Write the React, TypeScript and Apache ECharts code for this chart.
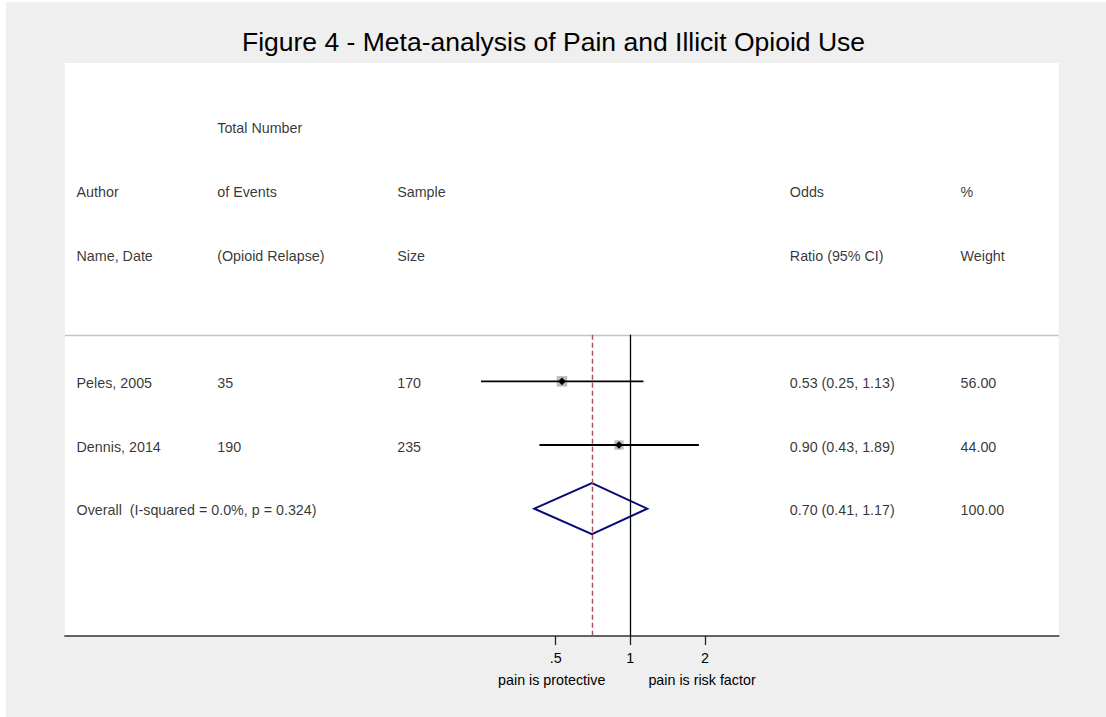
import React, { useEffect, useRef } from "react";
import * as echarts from "echarts";

// ---------- data ----------
const titleText = "Figure 4 - Meta-analysis of Pain and Illicit Opioid Use";
const authors = ["Peles, 2005", "Dennis, 2014"];
const events = [35, 190];
const samples = [170, 235];
const oddsRatios = [0.53, 0.9];
const ciLow = [0.25, 0.43];
const ciHigh = [1.13, 1.89];
const weights = [56.0, 44.0];
const overallLabel = "Overall  (I-squared = 0.0%, p = 0.324)";
const overallEstimate = [0.7, 0.41, 1.17]; // OR, lower, upper
const overallWeight = 100.0;
const headerLine1 = ["", "Total Number", "", "", ""];
const headerLine2 = ["Author", "of Events", "Sample", "Odds", "%"];
const headerLine3 = ["Name, Date", "(Opioid Relapse)", "Size", "Ratio (95% CI)", "Weight"];
const tickValues = [0.5, 1, 2];
const tickLabels = [".5", "1", "2"];
const directionLabels = ["pain is protective", "pain is risk factor"];

// ---------- layout constants ----------
const FONT = "'Liberation Sans', Arial, Helvetica, sans-serif";
const OFFX = 6;
const OFFY = 2;
const XMIN = 0.00525;
const XMAX = 53.4;
const columnX = [0.0111, 0.1527, 0.3338, 0.7289, 0.9007];
const headerRowY = [1, 2, 3];
const studyRowY = [5, 6];
const overallRowY = 7;
const dividerY = 4.27;
const ROWS = 9;
const FS = 14.3;

const fmt = (v: number) => v.toFixed(2);

export default function App() {
  const ref = useRef<HTMLDivElement>(null);

  useEffect(() => {
    if (!ref.current) return;
    const chart = echarts.init(ref.current, null, { renderer: "svg" });

    const textData: any[] = [];
    const pushRow = (cells: string[], row: number) => {
      cells.forEach((c, i) => {
        if (c !== "") textData.push({ name: c, value: [columnX[i], row] });
      });
    };
    pushRow(headerLine1, headerRowY[0]);
    pushRow(headerLine2, headerRowY[1]);
    pushRow(headerLine3, headerRowY[2]);
    authors.forEach((a, i) => {
      pushRow(
        [
          a,
          String(events[i]),
          String(samples[i]),
          `${fmt(oddsRatios[i])} (${fmt(ciLow[i])}, ${fmt(ciHigh[i])})`,
          fmt(weights[i]),
        ],
        studyRowY[i]
      );
    });
    textData.push({ name: overallLabel, value: [columnX[0], overallRowY] });
    textData.push({
      name: `${fmt(overallEstimate[0])} (${fmt(overallEstimate[1])}, ${fmt(overallEstimate[2])})`,
      value: [columnX[3], overallRowY],
    });
    textData.push({ name: fmt(overallWeight), value: [columnX[4], overallRowY] });

    const studyData = authors.map((_, i) => [oddsRatios[i], studyRowY[i], ciLow[i], ciHigh[i], weights[i]]);

    const option: any = {
      animation: false,
      backgroundColor: "#efefef",
      grid: {
        left: 65 - OFFX,
        right: 1106 - 1058.7,
        top: 63 - OFFY,
        bottom: 717 - 636,
        show: true,
        backgroundColor: "#ffffff",
        borderWidth: 0,
        containLabel: false,
      },
      xAxis: [
        {
          type: "log",
          logBase: 2,
          min: XMIN,
          max: XMAX,
          position: "bottom",
          splitLine: { show: false },
          axisLine: { show: true, onZero: false, lineStyle: { color: "#333333", width: 1.7 } },
          axisTick: {
            show: true,
            length: 9,
            customValues: tickValues,
            lineStyle: { color: "#222222", width: 1.3 },
          },
          axisLabel: {
            customValues: tickValues,
            margin: 14.5,
            fontSize: FS,
            color: "#000",
            fontFamily: FONT,
            formatter: (v: number) => {
              let best = 0;
              tickValues.forEach((t, i) => {
                if (Math.abs(Math.log(v) - Math.log(t)) < Math.abs(Math.log(v) - Math.log(tickValues[best]))) best = i;
              });
              return tickLabels[best];
            },
          },
        },
        { type: "value", min: 0, max: 1, show: false },
      ],
      yAxis: [{ type: "value", min: 0, max: ROWS, inverse: true, show: false }],
      graphic: [
        {
          type: "text",
          x: 553.5 - OFFX,
          y: 42 - OFFY,
          style: {
            text: titleText,
            fontSize: 26.5,
            fontFamily: FONT,
            fill: "#000",
            textAlign: "center",
            textVerticalAlign: "middle",
          },
        },
        {
          type: "text",
          x: 551.7 - OFFX,
          y: 679.5 - OFFY,
          style: {
            text: directionLabels[0],
            fontSize: FS,
            fontFamily: FONT,
            fill: "#000",
            textAlign: "center",
            textVerticalAlign: "middle",
          },
        },
        {
          type: "text",
          x: 702 - OFFX,
          y: 679.5 - OFFY,
          style: {
            text: directionLabels[1],
            fontSize: FS,
            fontFamily: FONT,
            fill: "#000",
            textAlign: "center",
            textVerticalAlign: "middle",
          },
        },
      ],
      series: [
        {
          type: "scatter",
          name: "divider",
          xAxisIndex: 1,
          yAxisIndex: 0,
          data: [],
          silent: true,
          markLine: {
            silent: true,
            symbol: "none",
            label: { show: false },
            lineStyle: { color: "#c4c4c4", width: 1.3, type: "solid" },
            data: [{ yAxis: dividerY }],
          },
        },
        {
          type: "custom",
          name: "studies",
          xAxisIndex: 0,
          yAxisIndex: 0,
          silent: true,
          encode: { x: [0, 2, 3], y: 1 },
          data: studyData,
          renderItem: (params: any, api: any) => {
            const or = api.value(0);
            const row = api.value(1);
            const lo = api.value(2);
            const hi = api.value(3);
            const w = api.value(4);
            const c = api.coord([or, row]);
            const l = api.coord([lo, row]);
            const h = api.coord([hi, row]);
            const side = Math.sqrt(w) * 1.4;
            const d = 3.8;
            return {
              type: "group",
              children: [
                {
                  type: "rect",
                  shape: { x: c[0] - side / 2, y: c[1] - side / 2, width: side, height: side },
                  style: { fill: "#bcbcbc" },
                },
                {
                  type: "line",
                  shape: { x1: l[0], y1: l[1], x2: h[0], y2: h[1] },
                  style: { stroke: "#000", lineWidth: 1.8 },
                },
                {
                  type: "polygon",
                  shape: {
                    points: [
                      [c[0] - d, c[1]],
                      [c[0], c[1] - d],
                      [c[0] + d, c[1]],
                      [c[0], c[1] + d],
                    ],
                  },
                  style: { fill: "#000" },
                },
              ],
            };
          },
        },
        {
          type: "custom",
          name: "overall",
          xAxisIndex: 0,
          yAxisIndex: 0,
          silent: true,
          encode: { x: [0, 2, 3], y: 1 },
          data: [[overallEstimate[0], overallRowY, overallEstimate[1], overallEstimate[2]]],
          renderItem: (params: any, api: any) => {
            const or = api.value(0);
            const row = api.value(1);
            const lo = api.value(2);
            const hi = api.value(3);
            const c = api.coord([or, row]);
            const l = api.coord([lo, row]);
            const h = api.coord([hi, row]);
            const hh = 25.5;
            return {
              type: "polygon",
              shape: {
                points: [
                  [l[0], c[1]],
                  [c[0], c[1] - hh],
                  [h[0], c[1]],
                  [c[0], c[1] + hh],
                ],
              },
              style: { fill: "none", stroke: "#0a0a78", lineWidth: 2 },
            };
          },
          markLine: {
            silent: true,
            symbol: "none",
            label: { show: false },
            data: [
              [
                { coord: [1, dividerY], lineStyle: { color: "#000", width: 1.3, type: "solid" } },
                { coord: [1, ROWS] },
              ],
              [
                {
                  coord: [overallEstimate[0], dividerY],
                  lineStyle: { color: "#a8505a", width: 1.4, type: [5, 3] },
                },
                { coord: [overallEstimate[0], ROWS] },
              ],
            ],
          },
        },
        {
          type: "scatter",
          name: "table",
          xAxisIndex: 1,
          yAxisIndex: 0,
          silent: true,
          symbolSize: 1,
          itemStyle: { color: "rgba(0,0,0,0)" },
          data: textData,
          label: {
            show: true,
            position: "right",
            distance: 0,
            offset: [0, 1.5],
            formatter: "{b}",
            fontSize: FS,
            color: "#000",
            fontFamily: FONT,
          },
        },
      ],
    };

    chart.setOption(option);
    return () => chart.dispose();
  }, []);

  return (
    <div style={{ position: "absolute", left: 0, top: 0, width: 1106, height: 717, background: "#ffffff" }}>
      <div ref={ref} style={{ position: "absolute", left: OFFX, top: OFFY, width: 1106 - OFFX, height: 717 - OFFY }} />
    </div>
  );
}
